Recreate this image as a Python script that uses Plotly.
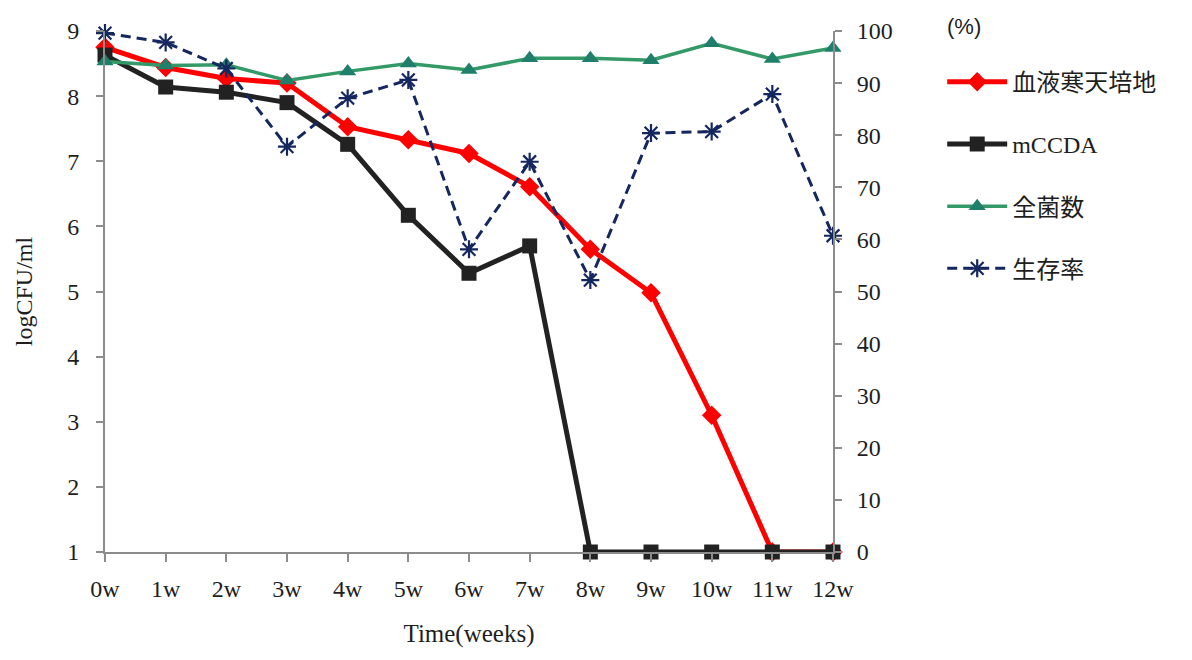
import plotly.graph_objects as go

weeks = list(range(13))
week_labels = ["0w", "1w", "2w", "3w", "4w", "5w", "6w", "7w", "8w", "9w", "10w", "11w", "12w"]
blood_agar = [8.75, 8.44, 8.27, 8.2, 7.53, 7.33, 7.12, 6.61, 5.65, 4.98, 3.1, 1.0, 1.0]
mccda = [8.63, 8.14, 8.06, 7.9, 7.26, 6.17, 5.28, 5.7, 1.0, 1.0, 1.0, 1.0, 1.0]
total_count = [8.53, 8.47, 8.48, 8.24, 8.38, 8.5, 8.4, 8.58, 8.58, 8.55, 8.81, 8.57, 8.74]
survival = [99.6, 97.8, 92.8, 77.8, 87.1, 90.6, 58.1, 74.9, 52.2, 80.4, 80.7, 87.9, 60.7]

names = ["血液寒天培地", "mCCDA", "全菌数", "生存率"]

fig = go.Figure()
fig.add_trace(go.Scatter(x=weeks, y=blood_agar, name=names[0], mode="lines+markers",
                         line=dict(color="#ff0000", width=5),
                         marker=dict(symbol="diamond", size=15, color="#ff0000"),
                         cliponaxis=False, legendgroup="a"))
fig.add_trace(go.Scatter(x=weeks, y=mccda, name=names[1], mode="lines+markers",
                         line=dict(color="#222222", width=5),
                         marker=dict(symbol="square", size=15, color="#222222"),
                         cliponaxis=False, legendgroup="b"))
fig.add_trace(go.Scatter(x=weeks, y=total_count, name=names[2], mode="lines+markers",
                         line=dict(color="#339966", width=3.5),
                         marker=dict(symbol="triangle-up", size=15, color="#1f7f6a"),
                         cliponaxis=False, legendgroup="c"))
fig.add_trace(go.Scatter(x=weeks, y=survival, name=names[3], mode="lines+markers", yaxis="y2",
                         line=dict(color="#14275e", width=3, dash="10px,6px"),
                         marker=dict(symbol="asterisk-open", size=15, line=dict(color="#14275e", width=2.2)),
                         cliponaxis=False, legendgroup="d"))

serif = "Liberation Serif, Noto Sans CJK JP"
axis_common = dict(showgrid=False, zeroline=False, showline=True, linecolor="#8c8c8c", linewidth=2,
                   ticks="outside", tickcolor="#8c8c8c", tickwidth=2)
fig.update_layout(
    width=1192, height=660,
    margin=dict(l=105, r=359, t=31, b=108),
    plot_bgcolor="white", paper_bgcolor="white",
    font=dict(family=serif, size=24, color="#1e1e1e"),
    xaxis=dict(range=[0, 12], tickvals=weeks, ticktext=week_labels, ticklen=8,
               ticklabelstandoff=6,
               title=dict(text="Time(weeks)", font=dict(size=25), standoff=24), **axis_common),
    yaxis=dict(range=[1, 9], dtick=1, ticklen=7, ticklabelstandoff=12,
               title=dict(text="logCFU/ml", font=dict(size=24), standoff=28), **axis_common),
    yaxis2=dict(range=[0, 100], dtick=10, overlaying="y", side="right", ticklen=7,
                ticklabelstandoff=10, **axis_common),
    legend=dict(x=1.15, y=0.945, xanchor="left", yanchor="top", tracegroupgap=28,
                font=dict(family=serif, size=24, color="#1e1e1e"), bgcolor="rgba(0,0,0,0)",
                itemwidth=60),
    annotations=[dict(text="(%)", xref="paper", yref="paper", x=1.154, y=1.0, xanchor="left",
                      yanchor="bottom", yshift=-10, showarrow=False,
                      font=dict(family="Liberation Sans", size=22, color="#1e1e1e"))],
)

fig.write_html("out.html")
